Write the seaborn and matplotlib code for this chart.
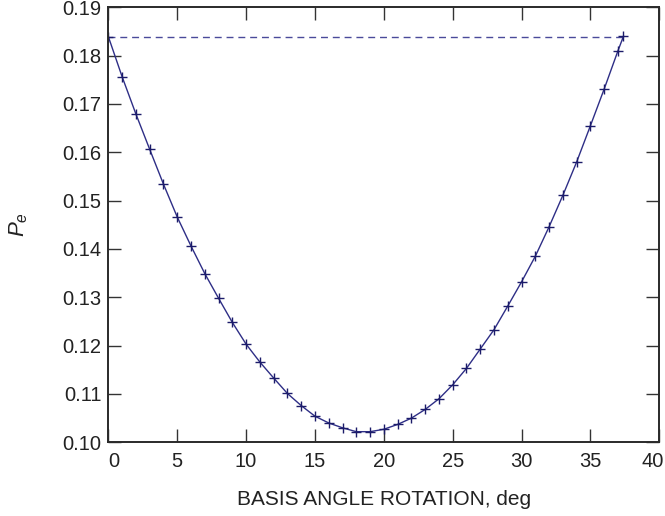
import matplotlib
matplotlib.use("Agg")
import matplotlib.pyplot as plt
import matplotlib.transforms as mtransforms
import seaborn as sns
import pandas as pd

# Data
angle_deg = [0, 1, 2, 3, 4, 5, 6, 7, 8, 9, 10, 11, 12, 13, 14, 15, 16, 17, 18, 19,
             20, 21, 22, 23, 24, 25, 26, 27, 28, 29, 30, 31, 32, 33, 34, 35, 36, 37, 37.4]
pe_values = [0.1839, 0.1756, 0.1679, 0.1606, 0.1534, 0.1466, 0.1406, 0.1349, 0.1298,
             0.1248, 0.1203, 0.1166, 0.1133, 0.1101, 0.1076, 0.1054, 0.1040, 0.1030,
             0.1022, 0.1022, 0.1027, 0.1037, 0.1050, 0.1068, 0.1090, 0.1119, 0.1153,
             0.1193, 0.1233, 0.1282, 0.1332, 0.1385, 0.1446, 0.1511, 0.1580, 0.1655,
             0.1731, 0.1810, 0.1840]
ref_x = [0, 37.4]
ref_level = [0.1839, 0.1839]
x_ticks = [0, 5, 10, 15, 20, 25, 30, 35, 40]
y_ticks = [0.10, 0.11, 0.12, 0.13, 0.14, 0.15, 0.16, 0.17, 0.18, 0.19]

sns.set_style("ticks")
plt.rcParams['font.family'] = ['Liberation Sans', 'DejaVu Sans']
plt.rcParams['mathtext.fontset'] = 'custom'
plt.rcParams['mathtext.it'] = 'Liberation Sans:italic'
plt.rcParams['mathtext.rm'] = 'Liberation Sans'

fig = plt.figure(figsize=(6.65, 5.16), dpi=100)
ax = fig.add_axes([0.163, 0.1428, 0.9914 - 0.163, 0.9859 - 0.1428])

df = pd.DataFrame({"angle": angle_deg, "pe": pe_values})
dref = pd.DataFrame({"angle": ref_x, "pe": ref_level})

line_color = "#2e2e86"
sns.lineplot(data=dref, x="angle", y="pe", ax=ax, color="#4a4a9a", lw=1.0,
             linestyle=(0, (5, 3.5)))
sns.lineplot(data=df, x="angle", y="pe", ax=ax, color=line_color, lw=1.0,
             marker="+", markersize=7, markeredgewidth=1.0,
             markeredgecolor="#1c1c6a")

ax.set_xlim(0, 40)
ax.set_ylim(0.10, 0.19)
ax.set_xticks(x_ticks)
ax.set_yticks(y_ticks)
ax.set_xticklabels([str(t) for t in x_ticks])
ax.set_yticklabels([f"{t:.2f}" for t in y_ticks])

ax.tick_params(direction="in", length=9.5, width=1.0, top=True, right=True,
               labelsize=14.5, colors="#333333", labelcolor="#222222")
ax.tick_params(axis="x", pad=7)
ax.tick_params(axis="y", pad=5)
for s in ax.spines.values():
    s.set_visible(True)
    s.set_linewidth(1.4)
    s.set_color("#2a2a2a")

# nudge the end labels inward as in the reference
labels = ax.get_xticklabels()
labels[0].set_transform(labels[0].get_transform() +
                        mtransforms.ScaledTranslation(5 / 100, 0, fig.dpi_scale_trans))
labels[-1].set_transform(labels[-1].get_transform() +
                         mtransforms.ScaledTranslation(-7 / 100, 0, fig.dpi_scale_trans))

ax.set_xlabel("BASIS ANGLE ROTATION, deg", fontsize=15, color="#222222", labelpad=14)
ax.set_ylabel("$P_e$", fontsize=16, color="#222222")
ax.yaxis.set_label_coords(-0.142, 0.5)

fig.savefig("out.png", dpi=100)
